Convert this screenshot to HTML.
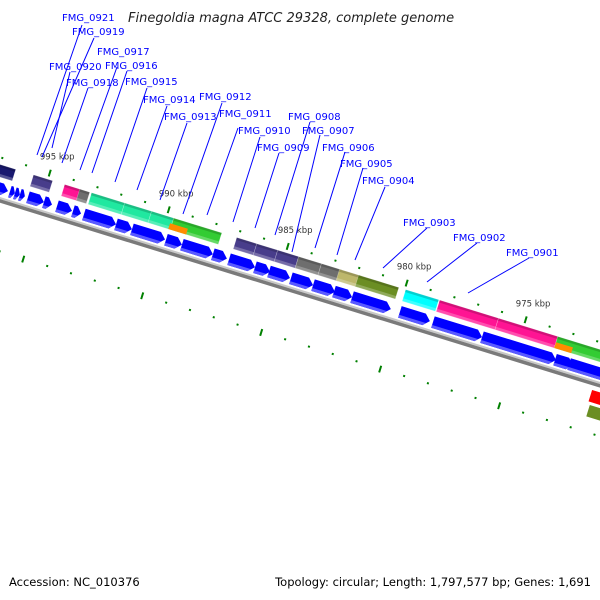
<!DOCTYPE html>
<html><head><meta charset="utf-8"><style>
html,body{margin:0;padding:0;background:#fff;}
svg{display:block;font-family:"DejaVu Sans","Liberation Sans",sans-serif;}
</style></head><body>
<svg id="chart" width="600" height="600" viewBox="0 0 600 600" xmlns="http://www.w3.org/2000/svg">
<rect width="600" height="600" fill="#fff"/>
<text x="128" y="22" font-size="13" font-style="italic" fill="#222">Finegoldia magna ATCC 29328, complete genome</text>
<g id="rot"></g>
<g id="labels"></g>
<text x="9" y="586" font-size="11.5" fill="#000">Accession: NC_010376</text>
<text x="591" y="586" font-size="11.5" fill="#000" text-anchor="end">Topology: circular; Length: 1,797,577 bp; Genes: 1,691</text>
</svg>
<script>
// forward-strand CDS arrows (kbp start, kbp end)
const cdsStart=[998,996.31,996.10,995.89,995.55,994.88,994.33,993.66,993.20,991.85,991.18,989.75,989.08,987.78,987.10,986.01,985.42,984.50,983.57,982.69,981.93,979.92,978.53,976.47,973.40,972.81];
const cdsEnd=[996.39,996.10,995.89,995.68,994.88,994.54,993.70,993.32,991.85,991.18,989.79,989.08,987.78,987.19,986.01,985.38,984.54,983.57,982.65,981.93,980.30,978.66,976.47,973.36,972.64,970];
// colored feature blocks (kbp start, kbp end, color)
const featStart=[998,995.60,994.29,993.66,993.16,991.77,990.64,989.71,987.06,986.22,985.34,984.46,983.50,982.74,981.94,979.96,978.53,976.06,973.57];
const featEnd=[996.35,994.80,993.58,993.24,991.77,990.64,989.71,987.69,986.22,985.34,984.46,983.50,982.65,981.81,980.25,978.57,976.06,973.57,970];
const featColor=["#191970","#483d8b","#ff1493","#6e6e6e","#20e8a0","#20e8a0","#20e8a0","#33cc33","#483d8b","#483d8b","#483d8b","#6e6e6e","#6e6e6e","#bdb76b","#6b8e23","#00ffff","#ff1493","#ff1493","#33cc33"];
// sub features (orange)
const subStart=[989.79,973.57];
const subEnd=[989.04,972.86];
// reverse strand
const revStart=[971.62,971.53];
const revEnd=[970,970];
const revColor=["#ff0000","#6b8e23"];
// tick range
const tickMin=969, tickMax=1000;
// gene labels
const labelNames=["FMG_0921","FMG_0919","FMG_0917","FMG_0920","FMG_0916","FMG_0918","FMG_0915","FMG_0914","FMG_0912","FMG_0913","FMG_0911","FMG_0910","FMG_0908","FMG_0907","FMG_0909","FMG_0906","FMG_0905","FMG_0904","FMG_0903","FMG_0902","FMG_0901"];
const labelX=[62,72,97,49,105,66,125,143,199,164,219,238,288,302,257,322,340,362,403,453,506];
const labelY=[21,35,55,70,69,86,85,103,100,120,117,134,120,134,151,151,167,184,226,241,256];
const lineX1=[82,94,117,70,127,88,147,167,222,187,238,260,310,320,279,345,363,385,427,477,529];
const lineY1=[25,38,67,72,71,88,88,106,103,123,128,137,122,135,153,152,168,187,228,243,258];
const lineX2=[37,42,80,52,92,62,115,137,183,160,207,233,275,292,255,315,337,355,383,427,468];
const lineY2=[155,157,170,148,173,163,182,190,214,200,215,222,235,252,228,248,255,260,268,282,293];

const C=Math.cos(17.13*Math.PI/180), S=Math.sin(17.13*Math.PI/180), Y0=197;
const U0=165, K0=990, PX=24.9;
function u(k){return U0+(K0-k)*PX;}
function sx(uu,v){return uu*C-v*S;}
function sy(uu,v){return Y0+uu*S+v*C;}
const NS="http://www.w3.org/2000/svg";
const rot=document.getElementById('rot');
rot.setAttribute('transform','translate(0,'+Y0+') rotate(17.13)');
const lab=document.getElementById('labels');
function mk(tag,attrs,parent){const e=document.createElementNS(NS,tag);for(const a in attrs)e.setAttribute(a,attrs[a]);parent.appendChild(e);return e;}

// backbone
let bb=mk('rect',{x:-100,y:0,width:1000,height:2,fill:'#c8c8c8'},rot);


let bb2=mk('rect',{x:-100,y:2,width:1000,height:3.5,fill:'#7a7a7a'},rot);



// CDS arrows
for(let i=0;i<cdsStart.length;i++){
  const a=u(cdsStart[i]), b=u(cdsEnd[i]); const len=b-a; const h=Math.min(6,len*0.6);
  const t=-14, m=-8, bt=-2;
  const p=mk('polygon',{points:`${a},${t} ${b-h},${t} ${b},${m} ${b-h},${bt} ${a},${bt}`,fill:'#0000ff'},rot);
  
  
  const p2=mk('polygon',{points:`${a},${bt-3} ${b-h*0.5},${bt-3} ${b-h},${bt} ${a},${bt}`,fill:'#5a5aff'},rot);
  
  
}
// feature blocks
for(let i=0;i<featStart.length;i++){
  const a=u(featStart[i]), b=u(featEnd[i]);
  const r=mk('rect',{x:a,y:-31,width:b-a,height:12,fill:featColor[i],stroke:'rgba(255,255,255,0.35)','stroke-width':0.6},rot);
  
  
  const r2=mk('rect',{x:a,y:-31,width:b-a,height:2.5,fill:'rgba(0,0,0,0.18)'},rot);
  
  
  const r3=mk('rect',{x:a,y:-22,width:b-a,height:3,fill:'rgba(255,255,255,0.25)'},rot);
  
  
}
for(let i=0;i<subStart.length;i++){
  const a=u(subStart[i]), b=u(subEnd[i]);
  const r=mk('rect',{x:a,y:-25,width:b-a,height:6,fill:'#ff8c00'},rot);
  
  
}
for(let i=0;i<revStart.length;i++){
  const a=u(revStart[i]), b=u(revEnd[i]);
  const r=mk('rect',{x:a,y:i==0?10:25,width:b-a,height:12,fill:revColor[i]},rot);
  
  
}
// ticks
for(let k=tickMin;k<=tickMax;k++){
  const uu=u(k); const big=(k%5===0);
  [-38,52].forEach(v=>{
    const t=mk('rect',{x:uu-1,y:big?v-3:v-1,width:2,height:big?7:2,fill:'#008000'},rot);
    
    
  });
  if(big){
    const x=sx(uu,-38), y=sy(uu,-38);
    const tx=mk('text',{x:x-10,y:y-13,'font-size':8.5,fill:'#333'},lab);
    tx.textContent=k+' kbp';
    
    
  }
}
// gene labels
for(let i=0;i<labelNames.length;i++){
  const l=mk('line',{x1:lineX1[i],y1:lineY1[i],x2:lineX2[i],y2:lineY2[i],stroke:'#0000ff','stroke-width':1},lab);
  
  
  const t=mk('text',{x:labelX[i],y:labelY[i],'font-size':10,fill:'#0000ff'},lab);
  t.textContent=labelNames[i];
  
  
}
</script>
</body></html>
